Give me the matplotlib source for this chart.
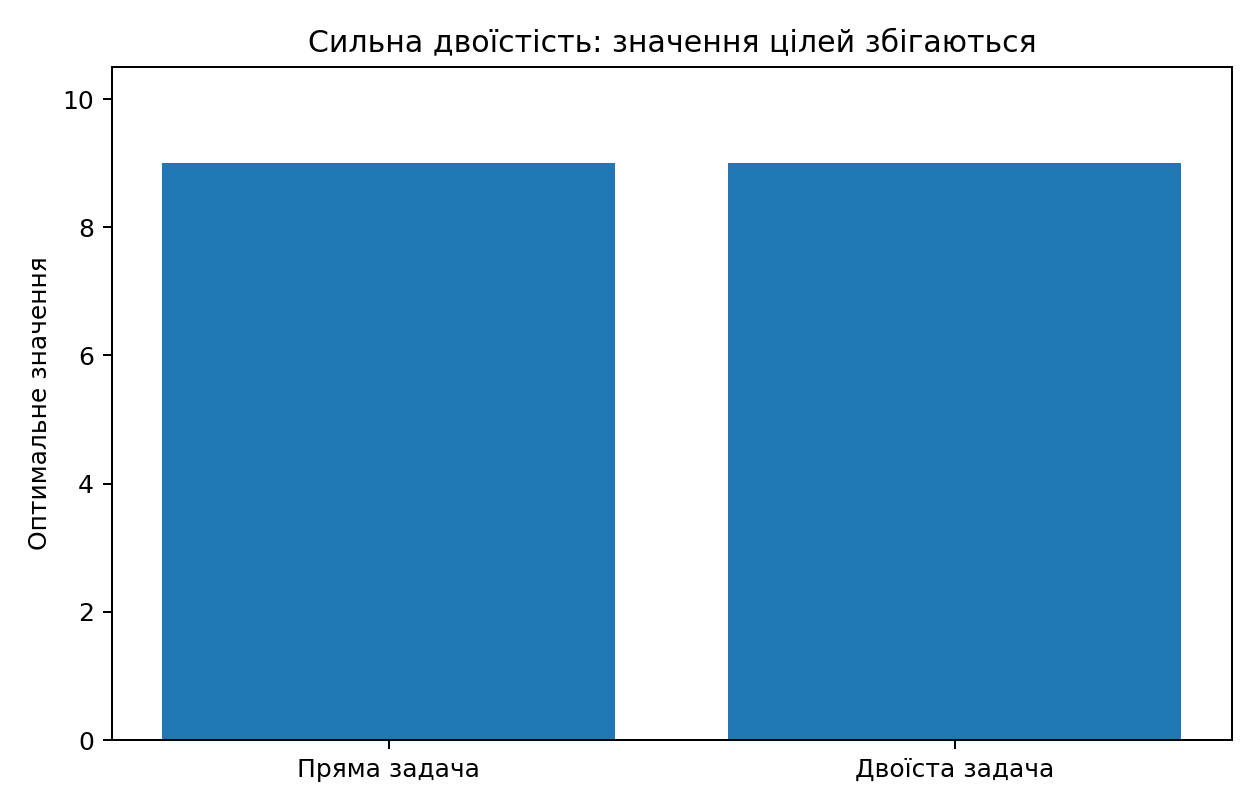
import matplotlib as mpl
mpl.use('Agg')
import matplotlib.pyplot as plt

problems = ['Пряма задача', 'Двоїста задача']
optimal_values = [9.0, 9.0]

fig, ax = plt.subplots(figsize=(7, 4.5), dpi=180)
ax.bar(problems, optimal_values, color='#1f77b4')
ax.set_ylim(0, 10.5)
ax.set_ylabel('Оптимальне значення')
ax.set_title('Сильна двоїстість: значення цілей збігаються')
fig.subplots_adjust(left=0.0885, right=0.978, top=0.9173, bottom=0.0864)
fig.savefig('out.png', dpi=180)
